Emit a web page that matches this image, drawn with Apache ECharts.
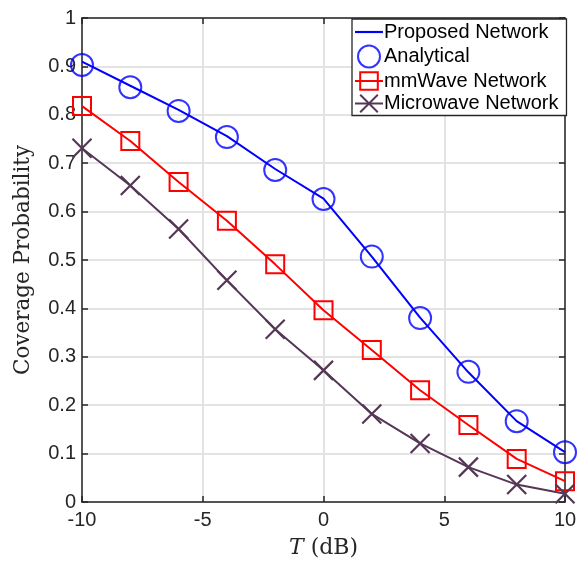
<!DOCTYPE html>
<html>
<head>
<meta charset="utf-8">
<script src="https://cdn.jsdelivr.net/npm/echarts@6/dist/echarts.min.js"></script>
<style>
  html, body { margin: 0; padding: 0; background: #fff; }
  #chart { width: 577px; height: 561px; }
</style>
</head>
<body>
<div id="chart"></div>
<script>
// Threshold T in dB
const thresholds = [-10, -8, -6, -4, -2, 0, 2, 4, 6, 8, 10];

// Coverage probability per scheme
const proposedNetwork = [0.910, 0.860, 0.810, 0.756, 0.688, 0.627, 0.507, 0.381, 0.268, 0.167, 0.103];
const analytical      = [0.903, 0.857, 0.808, 0.754, 0.686, 0.626, 0.507, 0.380, 0.269, 0.167, 0.103];
const mmWaveNetwork   = [0.818, 0.746, 0.661, 0.581, 0.491, 0.396, 0.314, 0.231, 0.159, 0.089, 0.043];
const microwaveNet    = [0.731, 0.654, 0.564, 0.458, 0.357, 0.272, 0.182, 0.121, 0.072, 0.036, 0.017];

const xTickLabels = ['-10', '-5', '0', '5', '10'];
const yTickLabels = ['0', '0.1', '0.2', '0.3', '0.4', '0.5', '0.6', '0.7', '0.8', '0.9', '1'];

const pairs = ys => thresholds.map((t, i) => [t, ys[i]]);

const axisColor = '#262626';
const gridColor = '#e3e3e3';
const serif = 'DejaVu Serif, Liberation Serif, serif';
const tickFont = { fontFamily: 'Liberation Sans, Arial, sans-serif', fontSize: 20, color: axisColor };

const chart = echarts.init(document.getElementById('chart'), null, { renderer: 'canvas' });

const xBase = {
  type: 'value', min: -10, max: 10, interval: 5,
  axisLine: { show: true, onZero: false, lineStyle: { color: axisColor, width: 1.5 } },
  axisTick: { show: true, inside: true, length: 6, lineStyle: { color: axisColor, width: 1.5 } },
  splitLine: { show: false }
};
const yBase = {
  type: 'value', min: 0, max: 1, interval: 0.1,
  axisLine: { show: true, onZero: false, lineStyle: { color: axisColor, width: 1.5 } },
  axisTick: { show: true, inside: true, length: 6, lineStyle: { color: axisColor, width: 1.5 } },
  splitLine: { show: false }
};

const xIndexOf = v => Math.round((v + 10) / 5);
const yIndexOf = v => Math.round(v * 10);

chart.setOption({
  animation: false,
  backgroundColor: '#fff',
  grid: { left: 82, right: 12, top: 18, bottom: 59, containLabel: false, outerBoundsMode: 'none' },
  xAxis: [
    Object.assign({}, xBase, {
      position: 'bottom',
      splitLine: { show: true, lineStyle: { color: gridColor, width: 2 } },
      axisLabel: Object.assign({}, tickFont, { margin: 8, formatter: v => xTickLabels[xIndexOf(v)] }),
      name: '{it|T} (dB)',
      nameLocation: 'middle',
      nameGap: 35,
      nameTextStyle: {
        fontFamily: serif, fontSize: 22, color: axisColor,
        rich: { it: { fontFamily: serif, fontStyle: 'italic', fontSize: 22, color: axisColor } }
      }
    }),
    Object.assign({}, xBase, { position: 'top', axisLabel: { show: false } })
  ],
  yAxis: [
    Object.assign({}, yBase, {
      position: 'left',
      splitLine: { show: true, lineStyle: { color: gridColor, width: 2 } },
      axisLabel: Object.assign({}, tickFont, { margin: 6, formatter: v => yTickLabels[yIndexOf(v)] }),
      name: 'Coverage Probability',
      nameLocation: 'middle',
      nameGap: 48,
      nameTextStyle: { fontFamily: serif, fontSize: 21.5, color: axisColor }
    }),
    Object.assign({}, yBase, { position: 'right', axisLabel: { show: false } })
  ],
  legend: {
    orient: 'vertical',
    left: 352, top: 19,
    itemWidth: 28, itemHeight: 22,
    itemGap: 2.5,
    padding: [3, 8, 2, 2],
    backgroundColor: '#fff',
    borderColor: axisColor,
    borderWidth: 1.3,
    textStyle: { fontFamily: 'Liberation Sans, Arial, sans-serif', fontSize: 20, color: '#000', padding: [0, 0, 0, -4] },
    data: [
      { name: 'Proposed Network', icon: 'path://M0,10L26,10L26,12L0,12Z' },
      'Analytical', 'mmWave Network', 'Microwave Network'
    ]
  },
  series: [
    {
      name: 'Proposed Network', type: 'line', data: pairs(proposedNetwork),
      symbol: 'none', z: 3,
      itemStyle: { color: '#0000ff' },
      lineStyle: { color: '#0000ff', width: 2 }
    },
    {
      name: 'Analytical', type: 'scatter', data: pairs(analytical),
      symbol: 'circle', symbolSize: 22, z: 4,
      itemStyle: { color: 'rgba(0,0,0,0)', borderColor: '#0000ff', borderWidth: 2 }
    },
    {
      name: 'mmWave Network', type: 'line', data: pairs(mmWaveNetwork),
      symbol: 'rect', symbolSize: 18, showAllSymbol: true, z: 3,
      itemStyle: { color: 'rgba(0,0,0,0)', borderColor: '#ff0000', borderWidth: 2 },
      lineStyle: { color: '#ff0000', width: 2 }
    },
    {
      name: 'Microwave Network', type: 'line', data: pairs(microwaveNet),
      symbol: 'path://M0,0L10,10M10,0L0,10', symbolSize: 19, showAllSymbol: true, z: 3,
      itemStyle: { color: 'rgba(0,0,0,0)', borderColor: '#553656', borderWidth: 2.2 },
      lineStyle: { color: '#553656', width: 2 }
    }
  ]
});
</script>
</body>
</html>
